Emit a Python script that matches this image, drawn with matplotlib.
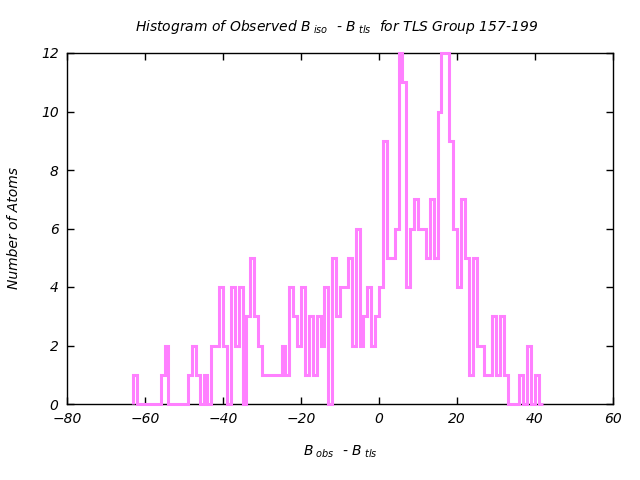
import numpy as np
import matplotlib
matplotlib.use("Agg")
import matplotlib.pyplot as plt

plt.rcParams['font.family'] = ['DejaVu Sans']
plt.rcParams['mathtext.fontset'] = 'dejavusans'
plt.rcParams['mathtext.default'] = 'it'

# Histogram bins (width 1) starting at -63
bin_start = -63
counts = [
    1, 0, 0, 0, 0, 0, 0,          # -63 .. -57
    1, 2,                          # -56, -55
    0, 0, 0, 0, 0,                 # -54 .. -50
    1, 2, 1, 0, 1, 0,              # -49 .. -44
    2, 2, 4, 2, 0, 4, 2, 4, 0,     # -43 .. -35
    3, 5, 3, 2,                    # -34 .. -31
    1, 1, 1, 1, 1,                 # -30 .. -26
    2, 1, 4, 3, 2, 4, 1, 3, 1, 3, 2, 4,  # -25 .. -14
    0, 5, 3, 4, 4, 5, 2, 6, 2, 3, 4, 2, 3,  # -13 .. -1
    4, 9, 5, 5, 6, 12, 11, 4, 6, 7, 6, 6, 5, 7, 5,  # 0 .. 14
    10, 12, 12, 9, 6, 4, 7, 5, 1, 5,  # 15 .. 24
    2, 2, 1, 1, 3, 1, 3, 1,        # 25 .. 32
    0, 0, 0, 1, 0, 2, 0, 1, 0,     # 33 .. 41
]
edges = np.arange(bin_start, bin_start + len(counts) + 1)

x_ticks = [-80, -60, -40, -20, 0, 20, 40, 60]
y_ticks = [0, 2, 4, 6, 8, 10, 12]

fig = plt.figure(figsize=(6.4, 4.8), dpi=100)
ax = fig.add_axes([67/640, 1 - 404/480, (613-67)/640, (404-53)/480])

ax.stairs(counts, edges, baseline=0, color='#ff80ff', lw=2.2, clip_on=False, zorder=3)

ax.set_xlim(-80, 60)
ax.set_ylim(0, 12)
ax.set_xticks(x_ticks)
ax.set_yticks(y_ticks)
ax.set_xticks(np.arange(-80, 61, 20), minor=False)
ax.tick_params(direction='in', top=True, right=True, length=5, width=1,
               labelsize=10, pad=6)
for lab in ax.get_xticklabels() + ax.get_yticklabels():
    lab.set_style('italic')
for s in ax.spines.values():
    s.set_linewidth(1)
    s.set_zorder(2)

fig.text(337/640, 1 - 27/480,
         r'Histogram of Observed B$_{\ iso}$  - B$_{\ tls}$  for TLS Group 157-199',
         ha='center', va='center', fontsize=10, style='italic')
fig.text(340/640, 1 - 452/480, r'B$_{\ obs}$  - B$_{\ tls}$',
         ha='center', va='center', fontsize=10, style='italic')
fig.text(14/640, 1 - 228/480, 'Number of Atoms', rotation=90,
         ha='center', va='center', fontsize=10, style='italic')

fig.savefig('out.png', dpi=100)
